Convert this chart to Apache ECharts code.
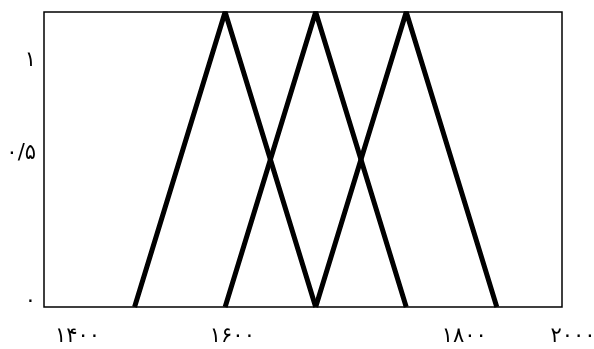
<!DOCTYPE html>
<html>
<head>
<meta charset="utf-8">
<script src="https://cdn.jsdelivr.net/npm/echarts@6/dist/echarts.min.js"></script>
<style>
  html, body { margin: 0; padding: 0; background: #fff; }
  #chart { width: 594px; height: 349px; }
</style>
</head>
<body>
<div id="chart"></div>
<script>
// three triangular membership functions (x, membership)
const lowSet = [[1500, 0], [1600, 1], [1700, 0]];
const midSet = [[1600, 0], [1700, 1], [1800, 0]];
const highSet = [[1700, 0], [1800, 1], [1900, 0]];

// tick labels, placed where the original figure shows them
const xTickValues = [1437, 1608, 1864, 1972];
const xTickLabels = ['۱۴۰۰', '۱۶۰۰', '۱۸۰۰', '۲۰۰۰'];
const yTickValues = [0.02, 0.52, 0.835];
const yTickLabels = ['۰', '۰/۵', '۱'];

const chart = echarts.init(document.getElementById('chart'));

const lineSeries = (data) => ({
    type: 'line',
    data: data,
    symbol: 'none',
    animation: false,
    lineStyle: { color: '#000', width: 5 }
});

chart.setOption({
    backgroundColor: '#fff',
    grid: {
        left: 44,
        right: 32,
        top: 12,
        bottom: 42,
        outerBoundsMode: 'none',
        containLabel: false,
        show: true,
        borderColor: '#000',
        borderWidth: 1.5,
        backgroundColor: 'transparent'
    },
    xAxis: {
        type: 'value',
        min: 1400,
        max: 1972,
        axisLine: { show: false },
        axisTick: { show: false },
        splitLine: { show: false },
        axisLabel: {
            customValues: xTickValues,
            margin: 19,
            color: '#000',
            fontSize: 21,
            fontFamily: 'DejaVu Sans',
            formatter: (v) => {
                const i = xTickValues.indexOf(v);
                if (i === xTickLabels.length - 1) return '{r|' + xTickLabels[i] + '}';
                return i >= 0 ? xTickLabels[i] : '';
            },
            rich: {
                r: { fontSize: 21, fontFamily: 'DejaVu Sans', color: '#000', padding: [0, 0, 0, 22] }
            }
        }
    },
    yAxis: {
        type: 'value',
        min: 0,
        max: 1,
        axisLine: { show: false },
        axisTick: { show: false },
        splitLine: { show: false },
        axisLabel: {
            customValues: yTickValues,
            margin: 8,
            color: '#000',
            fontSize: 21,
            fontFamily: 'DejaVu Sans',
            formatter: (v) => {
                const i = yTickValues.indexOf(v);
                return i >= 0 ? yTickLabels[i] : '';
            }
        }
    },
    series: [lineSeries(lowSet), lineSeries(midSet), lineSeries(highSet)]
});
</script>
</body>
</html>
